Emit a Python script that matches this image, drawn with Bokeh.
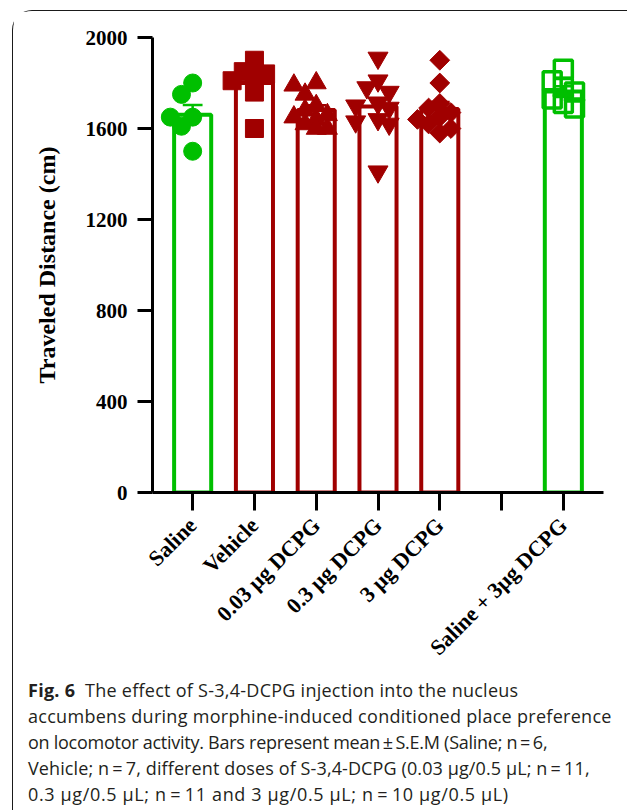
import numpy as np
from bokeh.plotting import figure
from bokeh.layouts import column
from bokeh.models import FactorRange, Range1d, FixedTicker, ColumnDataSource, Div
from bokeh.embed import file_html
from bokeh.resources import INLINE

# ---------------- data ----------------
categories = ["Saline", "Vehicle", "0.03 \u00b5g DCPG", "0.3 \u00b5g DCPG", "3 \u00b5g DCPG", " ", "Saline + 3\u00b5g DCPG"]
groups = ["Saline", "Vehicle", "0.03 \u00b5g DCPG", "0.3 \u00b5g DCPG", "3 \u00b5g DCPG", "Saline + 3\u00b5g DCPG"]
saline = [1800, 1750, 1650, 1650, 1610, 1500]
vehicle = [1900, 1850, 1840, 1840, 1810, 1760, 1600]
dcpg_003 = [1800, 1790, 1750, 1700, 1680, 1660, 1650, 1640, 1620, 1600, 1600]
dcpg_03 = [1910, 1810, 1780, 1760, 1710, 1700, 1690, 1640, 1630, 1620, 1410]
dcpg_3 = [1900, 1800, 1710, 1690, 1670, 1650, 1640, 1620, 1600, 1580]
saline_dcpg = [1860, 1810, 1780, 1760, 1730, 1710, 1690]
y_ticks = [0, 400, 800, 1200, 1600, 2000]

caption_bold = "Fig. 6"
caption_lines = [
    "The effect of S-3,4-DCPG injection into the nucleus",
    "accumbens during morphine-induced conditioned place preference",
    "on locomotor activity. Bars represent mean\u2009\u00b1\u2009S.E.M (Saline; n\u2009=\u20096,",
    "Vehicle; n\u2009=\u20097, different doses of S-3,4-DCPG (0.03 \u00b5g/0.5 \u00b5L; n\u2009=\u200911,",
    "0.3 \u00b5g/0.5 \u00b5L; n\u2009=\u200911 and 3 \u00b5g/0.5 \u00b5L; n\u2009=\u200910 \u00b5g/0.5 \u00b5L)",
]

GREEN = "#00bf00"
RED = "#a00000"
series = [
    (groups[0], saline, GREEN, "circle", True),
    (groups[1], vehicle, RED, "square", True),
    (groups[2], dcpg_003, RED, "triangle", True),
    (groups[3], dcpg_03, RED, "inverted_triangle", True),
    (groups[4], dcpg_3, RED, "diamond_sq", True),
    (groups[5], saline_dcpg, GREEN, "square", False),
]

# ---------------- layout ----------------
W, H = 614, 664
LEFT, RIGHT, TOP, BOTTOM = 139, 24, 26, 183
frame_h = H - TOP - BOTTOM
px_per_unit_y = frame_h / 2000.0
px_per_cat = (W - LEFT - RIGHT) / (len(categories) + 0.3)

p = figure(width=W, height=H,
           x_range=FactorRange(*categories, range_padding=0.15, range_padding_units="absolute"),
           y_range=Range1d(0, 2000),
           output_backend="svg", toolbar_location=None,
           min_border_left=LEFT, min_border_right=RIGHT, min_border_top=TOP, min_border_bottom=BOTTOM)
p.xgrid.visible = False
p.ygrid.visible = False
p.outline_line_color = None


def swarm(vals, d_px):
    placed = []
    offs = []
    step = d_px * 0.62
    thr = d_px * 0.66
    cands = [0, -1, 1, -2, 2]
    for v in vals:
        yv = v * px_per_unit_y
        chosen = 0
        for c in cands:
            cx = c * step
            if all((cx - a) ** 2 + (yv - b) ** 2 >= thr ** 2 for a, b in placed):
                chosen = cx
                break
        placed.append((chosen, yv))
        offs.append(chosen / px_per_cat)
    return offs


means = [float(np.mean(s[1])) for s in series]
sems = [float(np.std(s[1], ddof=1) / np.sqrt(len(s[1]))) for s in series]
colors = [s[2] for s in series]

# bars
p.vbar(x=groups, top=means, width=0.6, fill_color="white", line_color=colors, line_width=4)
# error bars (upper)
uppers = [m + e for m, e in zip(means, sems)]
p.segment(x0=groups, y0=means, x1=groups, y1=uppers, line_color=colors, line_width=2.5)
p.segment(x0=[(g, -0.16) for g in groups], y0=uppers, x1=[(g, 0.16) for g in groups], y1=uppers,
          line_color=colors, line_width=2.5)

# points
for name, vals, col, marker, filled in series:
    size = 18
    angle = 0.0
    mk = marker
    if marker == "diamond_sq":
        mk = "square"
        size = 14
        angle = np.pi / 4
    if marker in ("triangle", "inverted_triangle"):
        size = 20
    offs = swarm(vals, 18)
    src = ColumnDataSource(dict(x=[(name, o) for o in offs], y=vals))
    if filled:
        p.scatter("x", "y", source=src, marker=mk, size=size, angle=angle,
                  fill_color=col, line_color=col, line_width=1)
    else:
        p.scatter("x", "y", source=src, marker=mk, size=18, angle=angle,
                  fill_alpha=0, line_color=col, line_width=3.5)

# axes
for ax in (p.xaxis[0], p.yaxis[0]):
    ax.axis_line_width = 3
    ax.axis_line_color = "black"
    ax.major_tick_line_width = 3
    ax.major_tick_line_color = "black"
    ax.major_tick_in = 0
    ax.minor_tick_line_color = None
    ax.major_label_text_font = "Liberation Serif"
    ax.major_label_text_font_style = "bold"
    ax.major_label_text_color = "black"

p.xaxis.major_tick_out = 18
p.xaxis.major_label_orientation = np.pi / 4
p.xaxis.major_label_text_font_size = "22px"
p.xaxis.major_label_standoff = 11

p.yaxis.ticker = FixedTicker(ticks=y_ticks)
p.yaxis.major_tick_out = 15
p.yaxis.major_label_text_font_size = "21px"
p.yaxis.major_label_standoff = 10
p.yaxis.axis_label = "Traveled Distance (cm)"
p.yaxis.axis_label_text_font = "Liberation Serif"
p.yaxis.axis_label_text_font_style = "bold"
p.yaxis.axis_label_text_font_size = "24px"
p.yaxis.axis_label_text_color = "black"
p.yaxis.axis_label_standoff = 23

# caption
spacing = [0.26, 0.29, -0.26, 0.11, 0.64]
rows = []
for i, t in enumerate(caption_lines):
    body = ('<b>' + caption_bold + '</b>&nbsp; ' + t) if i == 0 else t
    rows.append('<div style="white-space:nowrap;letter-spacing:%.2fpx;">%s</div>' % (spacing[i], body))
cap = Div(text='<div style="margin-top:-3px;">' + "".join(rows) + '</div>', width=W, height=130,
          styles={"font-family": "'Open Sans'", "font-size": "18px", "line-height": "26px",
                  "color": "#231f20", "padding-left": "10px"})

layout = column(p, cap, spacing=0, margin=(10, 0, 0, 12),
                styles={"border-top": "1px solid #1a1a1a", "border-left": "1px solid #1a1a1a",
                        "border-top-left-radius": "20px"})

open("out.html", "w").write(file_html(layout, INLINE))
